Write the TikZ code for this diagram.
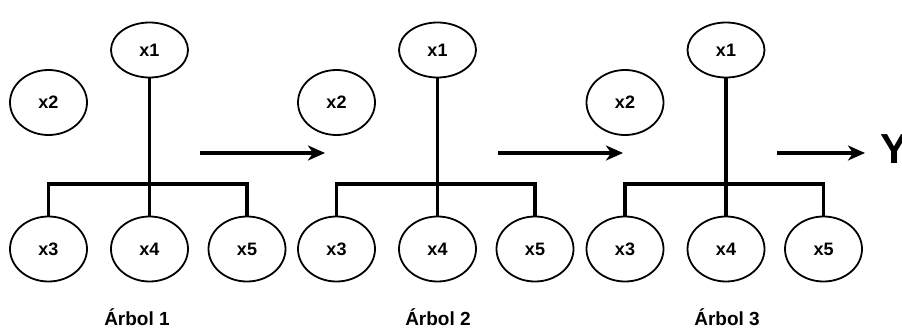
\documentclass[tikz,border=0pt]{standalone}
\usepackage{fontspec}
\setmainfont{Liberation Sans}
\usetikzlibrary{arrows.meta,shapes.geometric}
\begin{document}
\begin{tikzpicture}[x=1pt,y=-1pt,
  var/.style={draw, ellipse, line width=1.8pt, minimum width=77pt, minimum height=65pt, inner sep=0pt,
    font=\bfseries\fontsize{18}{20}\selectfont},
  top/.style={var, minimum height=55pt},
  conn/.style={line width=3.2pt, line cap=rect},
  arr/.style={line width=3.2pt, -{Stealth[length=17pt,width=15pt,inset=5pt]}},
  lab/.style={font=\bfseries\fontsize{19}{21}\selectfont, inner sep=0pt, anchor=base}]
\clip (0,0) rectangle (902,329);
\foreach \i/\dx/\lx in {1/0/137, 2/288/438, 3/576.5/727}{
  \node[top] (t\i x1) at (\dx+149.5,50) {x1};
  \node[var] (t\i x2) at (\dx+48.5,102.5) {x2};
  \node[var] (t\i x3) at (\dx+48.5,249) {x3};
  \node[var] (t\i x4) at (\dx+149.5,249) {x4};
  \node[var] (t\i x5) at (\dx+247,249) {x5};
  \coordinate (t\i bar) at (\dx+149.5,184);
  \draw[conn] (t\i x1.south) -- (t\i x4.north);
  \draw[conn] (t\i x3.north) -- (t\i x3.north |- t\i bar) -- (t\i x5.north |- t\i bar) -- (t\i x5.north);
  \node[lab] (l\i) at (\lx,325) {Árbol \i};
}
\coordinate (a1s) at (200,153); \coordinate (a1e) at (325,153);
\coordinate (a2s) at (498,153); \coordinate (a2e) at (623,153);
\coordinate (a3s) at (777,153); \coordinate (a3e) at (865,153);
\draw[arr] (a1s) -- (a1e);
\draw[arr] (a2s) -- (a2e);
\draw[arr] (a3s) -- (a3e);
\node[font=\bfseries\fontsize{42}{44}\selectfont, inner sep=0pt, anchor=base west] (Y) at (880,163) {Y};
\end{tikzpicture}
\end{document}
